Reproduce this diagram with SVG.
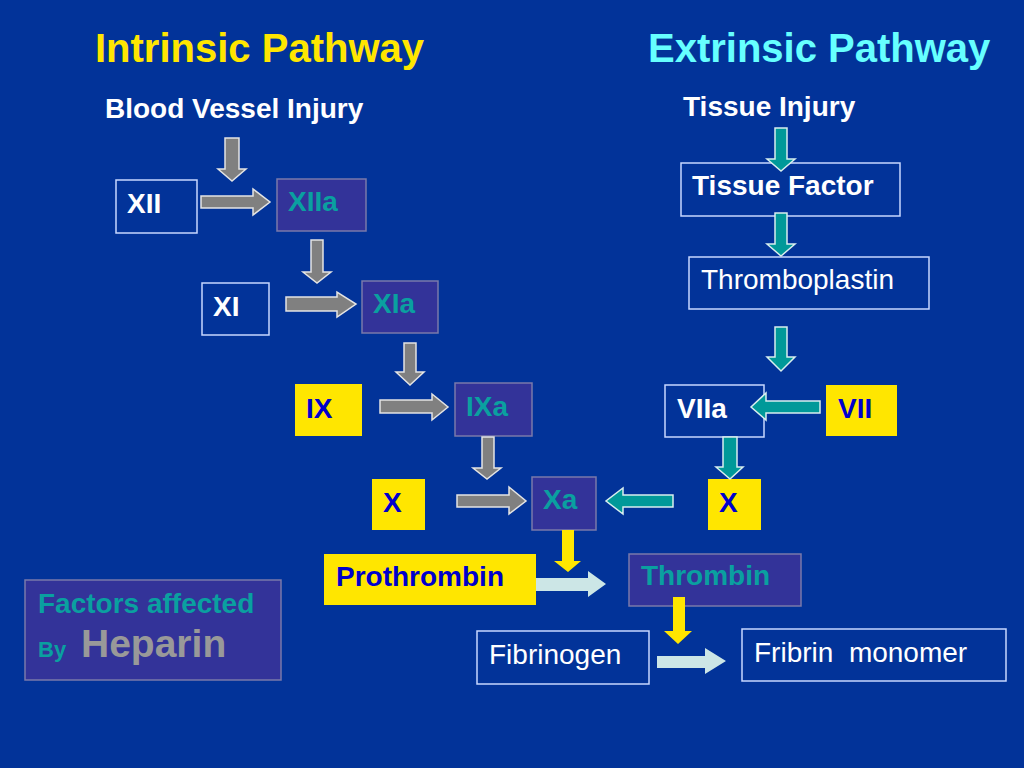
<svg xmlns="http://www.w3.org/2000/svg" width="1024" height="768" viewBox="0 0 1024 768">
<style>
text{font-family:"Liberation Sans",Arial,sans-serif;}
.b{font-weight:bold;}
.t{font-size:28px;}
.w{fill:#ffffff;}
.bl{fill:#0000cc;}
.tl{fill:#0aa0a0;}
.ob{fill:none;stroke:#c8d8ff;stroke-width:1.5;}
.pb{fill:#333399;stroke:#7a7aaa;stroke-width:1.5;}
.yb{fill:#ffe600;}
.ag{fill:#808080;stroke:#e4e4e4;stroke-width:1.5;}
.at{fill:#009999;stroke:#d8eeee;stroke-width:1.5;}
.ay{fill:#ffe600;}
.al{fill:#cce6e6;}
</style>
<rect x="0" y="0" width="1024" height="768" fill="#023399"/>

<g id="titles">
<text x="95" y="62" class="b" font-size="40" fill="#ffe600">Intrinsic Pathway</text>
<text x="648" y="62" class="b" font-size="40" fill="#66ffff">Extrinsic Pathway</text>
<text x="105" y="118" class="b t w">Blood Vessel Injury</text>
<text x="683" y="116" class="b t w">Tissue Injury</text>
</g>

<g id="node-XII"><rect class="ob" x="116" y="180" width="81" height="53"/><text x="127" y="213" class="b t w">XII</text></g>
<g id="node-XIIa"><rect class="pb" x="277" y="179" width="89" height="52"/><text x="288" y="211" class="b t tl">XIIa</text></g>
<g id="node-XI"><rect class="ob" x="202" y="283" width="67" height="52"/><text x="213" y="316" class="b t w">XI</text></g>
<g id="node-XIa"><rect class="pb" x="362" y="281" width="76" height="52"/><text x="373" y="313" class="b t tl">XIa</text></g>
<g id="node-IX"><rect class="yb" x="295" y="384" width="67" height="52"/><text x="306" y="418" class="b t bl">IX</text></g>
<g id="node-IXa"><rect class="pb" x="455" y="383" width="77" height="53"/><text x="466" y="416" class="b t tl">IXa</text></g>
<g id="node-X-left"><rect class="yb" x="372" y="479" width="53" height="51"/><text x="383" y="512" class="b t bl">X</text></g>
<g id="node-Xa"><rect class="pb" x="532" y="477" width="64" height="53"/><text x="543" y="509" class="b t tl">Xa</text></g>
<g id="node-Prothrombin"><rect class="yb" x="324" y="554" width="212" height="51"/><text x="336" y="586" class="b t bl">Prothrombin</text></g>
<g id="node-Thrombin"><rect class="pb" x="629" y="554" width="172" height="52"/><text x="641" y="585" class="b t tl">Thrombin</text></g>
<g id="node-Fibrinogen"><rect class="ob" x="477" y="631" width="172" height="53"/><text x="489" y="664" class="t w">Fibrinogen</text></g>
<g id="node-Fibrin"><rect class="ob" x="742" y="629" width="264" height="52"/><text x="754" y="662" class="t w" xml:space="preserve">Fribrin  monomer</text></g>
<g id="node-TissueFactor"><rect class="ob" x="681" y="163" width="219" height="53"/><text x="692" y="195" class="b t w">Tissue Factor</text></g>
<g id="node-Thromboplastin"><rect class="ob" x="689" y="257" width="240" height="52"/><text x="701" y="289" class="t w">Thromboplastin</text></g>
<g id="node-VIIa"><rect class="ob" x="665" y="385" width="99" height="52"/><text x="677" y="418" class="b t w">VIIa</text></g>
<g id="node-VII"><rect class="yb" x="826" y="385" width="71" height="51"/><text x="838" y="418" class="b t bl">VII</text></g>
<g id="node-X-right"><rect class="yb" x="708" y="479" width="53" height="51"/><text x="719" y="512" class="b t bl">X</text></g>
<g id="node-Heparin"><rect class="pb" x="25" y="580" width="256" height="100"/>
<text x="38" y="613" class="b t tl">Factors affected</text>
<text x="38" y="657" class="b" font-size="22" fill="#0aa0a0">By</text>
<text x="81" y="657" class="b" font-size="39" fill="#999999">Heparin</text>
</g>

<g id="connectors">
<path class="ag" d="M225 138H239V169H246L232 181L218 169H225Z"/>
<path class="ag" d="M201 196H253V189L270 202L253 215V208H201Z"/>
<path class="ag" d="M311 240H323V272H331L317 283L303 272H311Z"/>
<path class="ag" d="M286 297H337V292L356 304L337 317V311H286Z"/>
<path class="ag" d="M404 343H416V372H424L410 385L396 372H404Z"/>
<path class="ag" d="M380 400H432V394L448 407L432 420V413H380Z"/>
<path class="ag" d="M482 437H494V468H501L487 479L473 468H482Z"/>
<path class="ag" d="M457 495H509V487L526 501L509 514V507H457Z"/>

<path class="at" d="M775 128H787V159H795L781 171L767 159H775Z"/>
<path class="at" d="M775 213H787V244H795L781 256L767 244H775Z"/>
<path class="at" d="M775 327H787V357H795L781 371L767 357H775Z"/>
<path class="at" d="M820 401H766V393L751 407L766 420V413H820Z"/>
<path class="at" d="M723 437H737V467H743L730 479L716 467H723Z"/>
<path class="at" d="M673 495H623V488L606 501L623 514V507H673Z"/>

<path class="ay" d="M562 530H574V561H581L568 572L554 561H562Z"/>
<path class="ay" d="M673 597H685V631H692L678 644L664 631H673Z"/>

<path class="al" d="M536 578H588V571L606 584L588 597V591H536Z"/>
<path class="al" d="M657 656H705V648L726 661L705 674V668H657Z"/>
</g>
</svg>
